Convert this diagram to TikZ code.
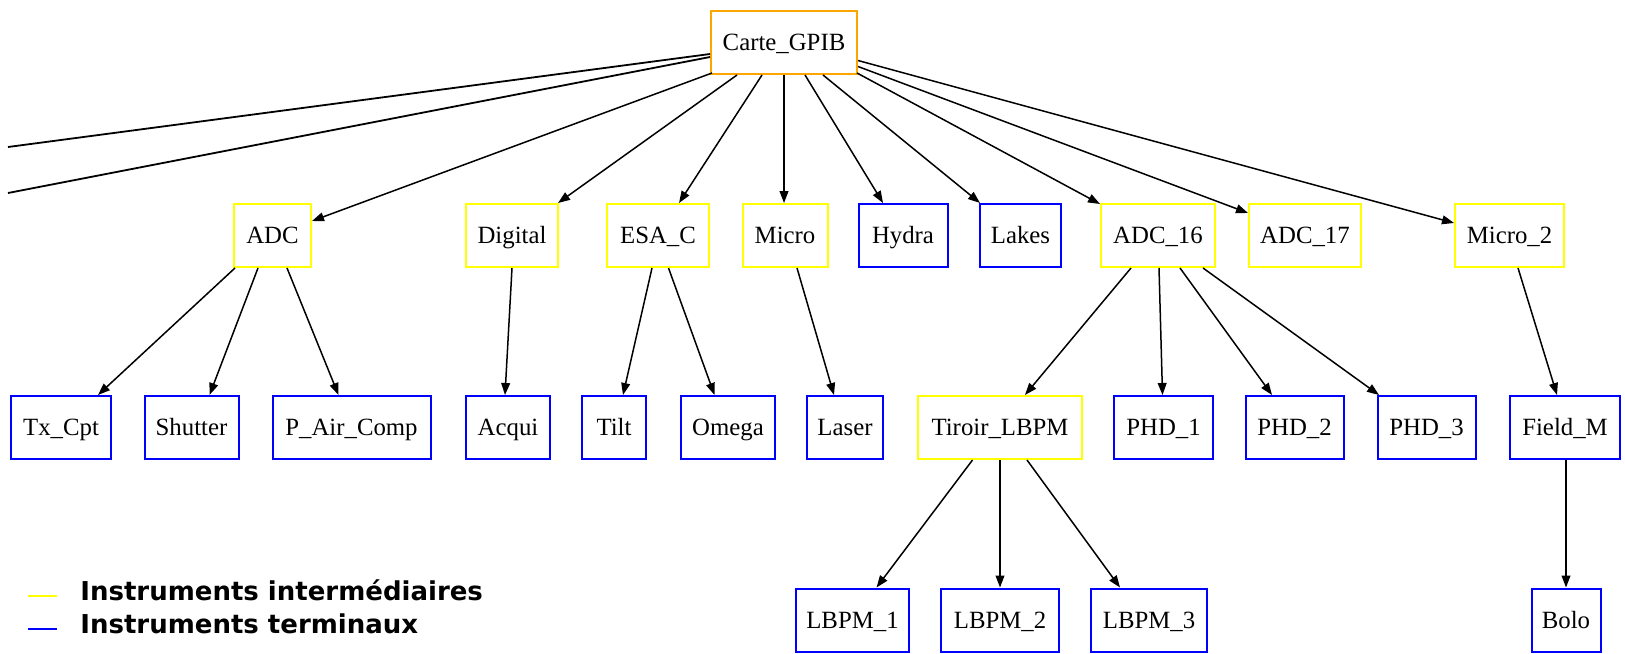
\documentclass[tikz,border=0pt]{standalone}
\usepackage{fontspec}
\setmainfont{Liberation Serif}
\newfontfamily\legendfont{DejaVu Sans}
\usetikzlibrary{arrows.meta,calc}
\definecolor{gorange}{RGB}{255,165,0}
\definecolor{gyellow}{RGB}{255,255,0}
\definecolor{gblue}{RGB}{0,0,255}
\begin{document}
\begin{tikzpicture}[x=0.5pt,y=-0.5pt,
  box/.style={draw, line width=1pt, rectangle, inner sep=0pt, minimum height=31.5pt,
    text height=8.2pt, text depth=0pt, font=\fontsize{12.4pt}{14pt}\selectfont},
  inter/.style={box, draw=gyellow},
  term/.style={box, draw=gblue},
  root/.style={box, draw=gorange},
  edge/.style={line width=0.75pt, -{Triangle[length=6pt,width=4.4pt]}},
  far/.style={line width=0.9pt},
  legtext/.style={anchor=base west, inner sep=0pt, font={\legendfont\bfseries\fontsize{13pt}{15pt}\selectfont}},
  legline/.style={line width=1pt}
]
\useasboundingbox (0,0) rectangle (1625,653);

% root
\node[root, minimum width=73pt] (carte) at (784,42.5) {Carte\_GPIB};

% row 1
\node[inter, minimum width=38.5pt] (adc) at (272.5,235.5) {ADC};
\node[inter, minimum width=46pt] (digital) at (512,235.5) {Digital};
\node[inter, minimum width=51pt] (esac) at (658,235.5) {ESA\_C};
\node[inter, minimum width=42.5pt] (micro) at (785,235.5) {Micro};
\node[term, minimum width=44.5pt] (hydra) at (903,235.5) {Hydra};
\node[term, minimum width=40.5pt] (lakes) at (1020.5,235.5) {Lakes};
\node[inter, minimum width=57pt] (adcsixteen) at (1158,235.5) {ADC\_16};
\node[inter, minimum width=56pt] (adcseventeen) at (1305,235.5) {ADC\_17};
\node[inter, minimum width=54.5pt] (microtwo) at (1509.5,235.5) {Micro\_2};

% row 2
\node[term, minimum width=50pt] (txcpt) at (61,427.5) {Tx\_Cpt};
\node[term, minimum width=47pt] (shutter) at (191.5,427.5) {Shutter};
\node[term, minimum width=79pt] (pair) at (351.5,427.5) {P\_Air\_Comp};
\node[term, minimum width=42pt] (acqui) at (508,427.5) {Acqui};
\node[term, minimum width=32pt] (tilt) at (614,427.5) {Tilt};
\node[term, minimum width=47pt] (omega) at (728,427.5) {Omega};
\node[term, minimum width=38pt] (laser) at (845,427.5) {Laser};
\node[inter, minimum width=82pt] (tiroir) at (1000,427.5) {Tiroir\_LBPM};
\node[term, minimum width=49.5pt] (phdone) at (1163.5,427.5) {PHD\_1};
\node[term, minimum width=49pt] (phdtwo) at (1294.5,427.5) {PHD\_2};
\node[term, minimum width=49pt] (phdthree) at (1426.5,427.5) {PHD\_3};
\node[term, minimum width=55pt] (fieldm) at (1565,427.5) {Field\_M};

% row 3
\node[term, minimum width=56.5pt] (lbpmone) at (852.5,620) {LBPM\_1};
\node[term, minimum width=59pt] (lbpmtwo) at (1000,620) {LBPM\_2};
\node[term, minimum width=58pt] (lbpmthree) at (1149,620) {LBPM\_3};
\node[term, minimum width=34.5pt] (bolo) at (1566,620) {Bolo};

% edges leaving the picture
\coordinate (offone) at (8,147);
\coordinate (offtwo) at (8,193);
\draw[far] ($(carte.west)+(0,11.5)$) -- (offone);
\draw[far] ($(carte.west)+(0,14.5)$) -- (offtwo);

% edges from root
\draw[edge] ($(carte.south west)+(2,-2)$) -- ($(adc.east)+(0,-14.5)$);
\draw[edge] ($(carte.south)+(-47,0)$) -- ($(digital.north east)+(-1,0)$);
\draw[edge] ($(carte.south)+(-22,0)$) -- ($(esac.north)+(21,0)$);
\draw[edge] (carte.south) -- (carte.south |- micro.north);
\draw[edge] ($(carte.south)+(21,0)$) -- ($(hydra.north)+(-20,0)$);
\draw[edge] ($(carte.south)+(39,0)$) -- ($(lakes.north west)+(1,0)$);
\draw[edge] ($(carte.south east)+(-1,-2)$) -- ($(adcsixteen.north west)+(0,1)$);
\draw[edge] ($(carte.east)+(0,24)$) -- ($(adcseventeen.west)+(0,-22.5)$);
\draw[edge] ($(carte.east)+(0,18)$) -- ($(microtwo.west)+(0,-12.5)$);

% row 1 -> row 2
\draw[edge] ($(adc.south west)+(2,0)$) -- ($(txcpt.north)+(37,0)$);
\draw[edge] ($(adc.south)+(-14.5,0)$) -- ($(shutter.north)+(18,0)$);
\draw[edge] ($(adc.south)+(14.5,0)$) -- ($(pair.north)+(-13,0)$);
\draw[edge] (digital.south) -- ($(acqui.north)+(-3,0)$);
\draw[edge] ($(esac.south)+(-6,0)$) -- ($(tilt.north)+(9,0)$);
\draw[edge] ($(esac.south)+(10.5,0)$) -- ($(omega.north)+(-13.5,0)$);
\draw[edge] ($(micro.south)+(12,0)$) -- ($(laser.north)+(-11,0)$);
\draw[edge] ($(adcsixteen.south)+(-27,0)$) -- ($(tiroir.north)+(25,0)$);
\draw[edge] ($(adcsixteen.south)+(1,0)$) -- ($(phdone.north)+(-1,0)$);
\draw[edge] ($(adcsixteen.south)+(22,0)$) -- ($(phdtwo.north)+(-22.5,0)$);
\draw[edge] ($(adcsixteen.south)+(45,0)$) -- ($(phdthree.north west)+(2.5,0)$);
\draw[edge] ($(microtwo.south)+(8.5,0)$) -- ($(fieldm.north)+(-8,0)$);

% row 2 -> row 3
\draw[edge] ($(tiroir.south)+(-27.5,0)$) -- ($(lbpmone.north)+(24,0)$);
\draw[edge] (tiroir.south) -- (lbpmtwo.north);
\draw[edge] ($(tiroir.south)+(27,0)$) -- ($(lbpmthree.north)+(-29,0)$);
\draw[edge] (fieldm.south -| bolo.north) -- (bolo.north);

% legend
\coordinate (lyA) at (28,596);
\coordinate (lyB) at (57,596);
\coordinate (lbA) at (28,629);
\coordinate (lbB) at (57,629);
\draw[legline, gyellow] (lyA) -- (lyB);
\draw[legline, gblue] (lbA) -- (lbB);
\node[legtext] (legone) at (80,600) {Instruments intermédiaires};
\node[legtext] (legtwo) at (80,633.3) {Instruments terminaux};
\end{tikzpicture}
\end{document}
